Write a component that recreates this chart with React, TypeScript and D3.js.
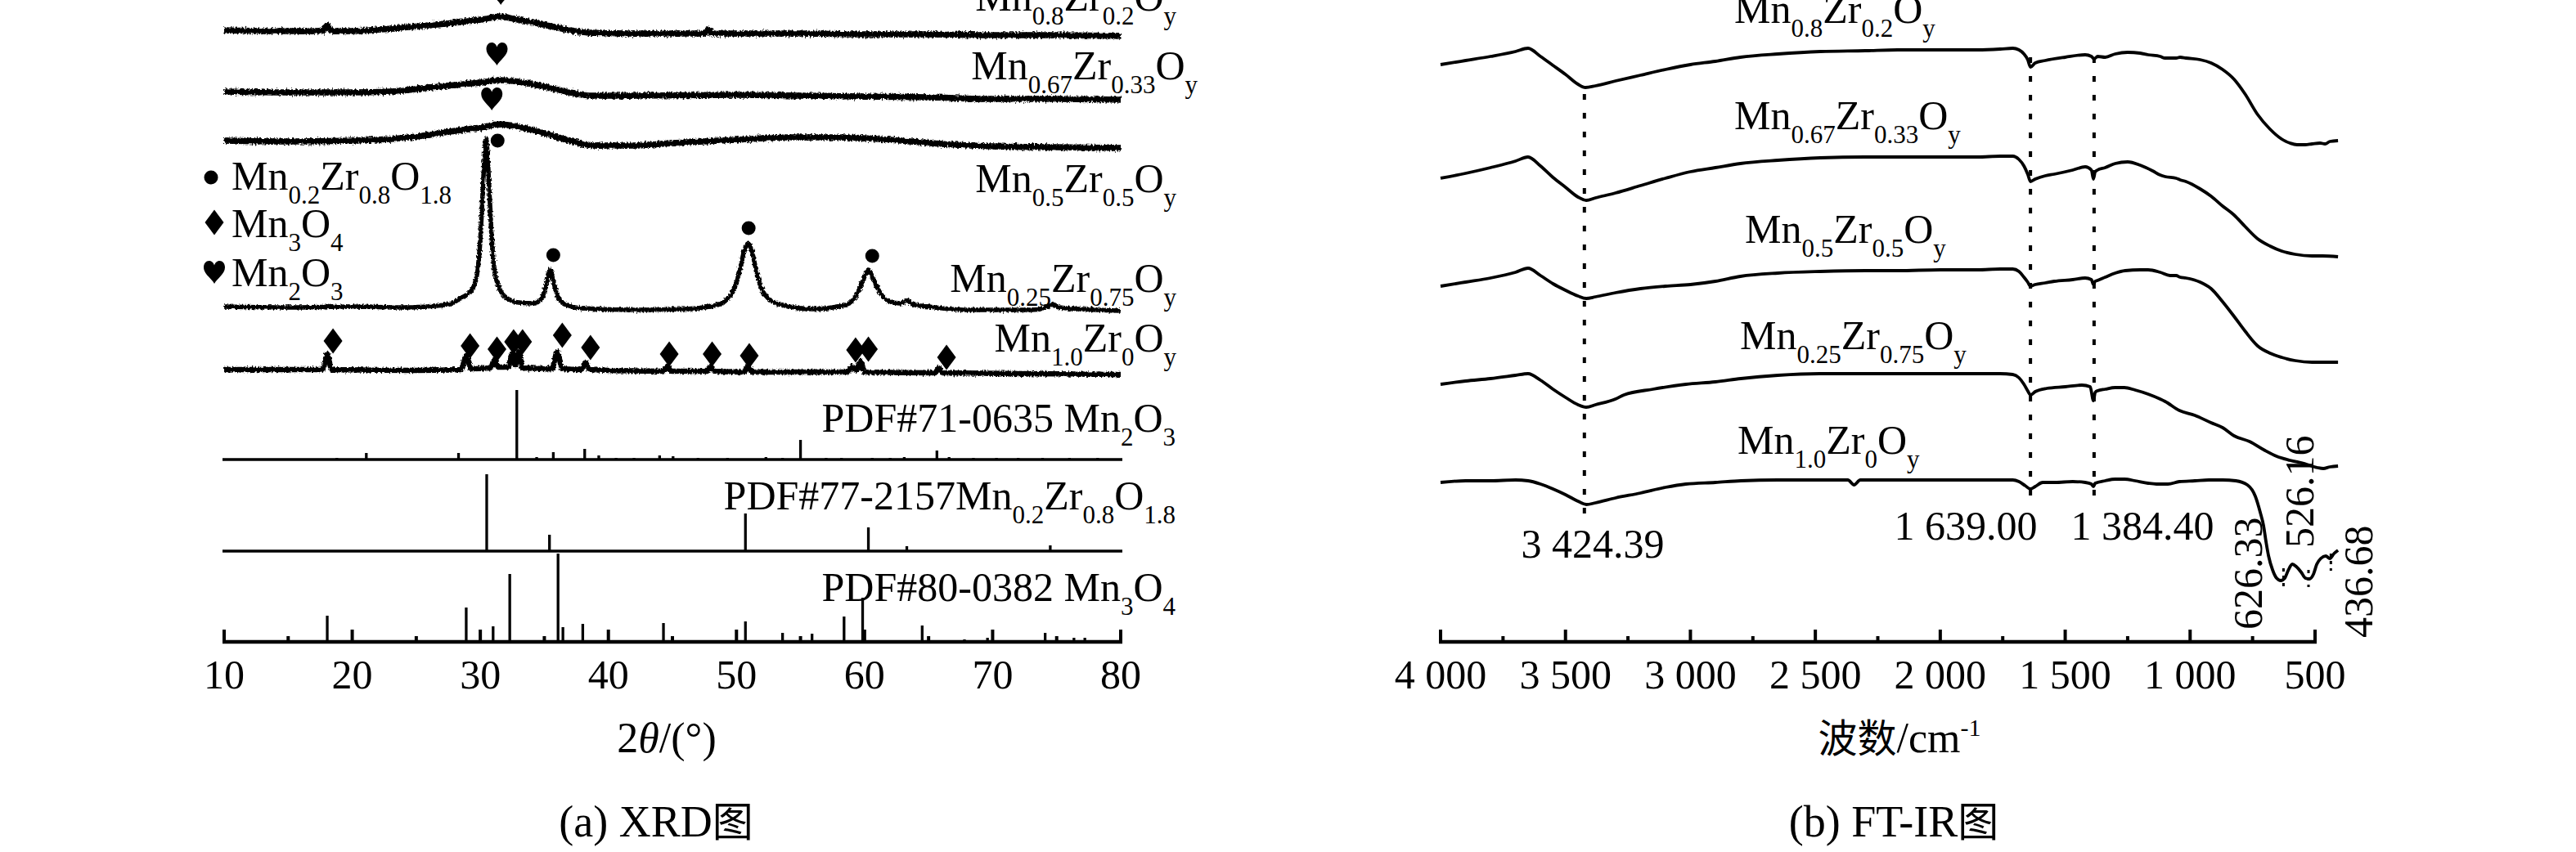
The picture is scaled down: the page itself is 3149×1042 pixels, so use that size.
import React from 'react';
import * as d3 from 'd3';

type P = [number, number];

// ================= (a) XRD data: 2θ (°), intensity (a.u., stacked) =================
const xrdTicks = [10, 20, 30, 40, 50, 60, 70, 80];
const xrdMinorTicks = [15, 25, 35, 45, 55, 65, 75];

const xrdSampleNames = [
  'Mn_{0.8}Zr_{0.2}O_{y}',
  'Mn_{0.67}Zr_{0.33}O_{y}',
  'Mn_{0.5}Zr_{0.5}O_{y}',
  'Mn_{0.25}Zr_{0.75}O_{y}',
  'Mn_{1.0}Zr_{0}O_{y}',
];

const xrdMn08: P[] = [
  [10, 748], [14, 747], [17.7, 747], [18.05, 754], [18.4, 747], [20, 747], [23, 750], [26, 754],
  [28.5, 758], [30.5, 762], [31.6, 765], [32.6, 762], [34, 758], [35.5, 753], [37, 748], [38.5, 745],
  [42, 744], [47.5, 744], [47.8, 749], [48.1, 744], [55, 744], [60, 743], [65, 743], [70, 742],
  [75, 742], [80, 741],
];
const xrdMn067: P[] = [
  [10, 673], [15, 672], [20, 672], [23, 673], [25.5, 677], [28, 681], [30, 684], [31.5, 687],
  [33, 685], [35, 679], [37, 672], [38.5, 668], [42, 668], [50, 669], [55, 668], [60, 667],
  [65, 666], [70, 664], [75, 664], [80, 663],
];
const xrdMn05: P[] = [
  [10, 613], [15, 612], [20, 613], [23, 615], [26, 620], [28, 625], [30, 629], [31.5, 633],
  [33, 630], [35, 622], [37, 613], [39, 607], [42, 607], [45, 610], [50, 614], [54, 617],
  [58, 617], [62, 614], [66, 609], [70, 606], [75, 605], [80, 604],
];
const xrdMn025: P[] = [
  [10, 410], [15, 409], [20, 410], [24, 409], [26.5, 411], [27.8, 414], [28.4, 420], [28.9, 424],
  [29.4, 432], [29.8, 455], [30.05, 505], [30.25, 570], [30.45, 615], [30.65, 570], [30.85, 505],
  [31.1, 455], [31.5, 432], [32.1, 420], [33, 415], [34.2, 414], [34.85, 422], [35.15, 438],
  [35.45, 455], [35.75, 438], [36.05, 422], [36.7, 412], [38, 408], [42, 406], [46, 407],
  [48.5, 412], [49.6, 425], [50.2, 450], [50.6, 478], [50.9, 487], [51.2, 478], [51.6, 450],
  [52.2, 425], [53.3, 413], [56, 407], [58.5, 412], [59.4, 425], [59.9, 443], [60.3, 455],
  [60.7, 443], [61.3, 425], [62.2, 415], [62.9, 414], [63.3, 418], [63.7, 413], [65, 410],
  [68, 406], [73, 406], [74.3, 410], [74.7, 413], [75.2, 409], [80, 405],
];
const xrdMn10: P[] = [
  [10, 333], [17.7, 333], [18.05, 352], [18.4, 333], [25, 332], [28.5, 333], [28.9, 350], [29.3, 334],
  [30.8, 335], [31.1, 345], [31.4, 336], [32.2, 336], [32.5, 353], [32.75, 338], [33.0, 355],
  [33.3, 335], [35.6, 334], [36.0, 355], [36.4, 334], [37.9, 333], [38.2, 342], [38.5, 333],
  [44.3, 331], [44.6, 337], [44.9, 331], [47.7, 331], [48.0, 337], [48.3, 331], [50.6, 330],
  [50.9, 338], [51.2, 330], [58.7, 330], [59.0, 337], [59.35, 332], [59.7, 343], [60.0, 330],
  [65.5, 329], [65.8, 335], [66.1, 329], [80, 327],
];
const xrdTraces = [xrdMn08, xrdMn067, xrdMn05, xrdMn025, xrdMn10];

// phase markers (2θ, a.u.)
const dotMarks: P[] = [[31.35, 613], [35.7, 473], [50.95, 506], [60.6, 472]];
const diamondMarks: P[] = [
  [18.5, 368], [29.2, 362], [31.3, 358], [32.6, 367], [33.3, 367], [36.4, 375], [38.6, 360],
  [44.75, 352], [48.1, 352], [51.0, 350], [59.3, 357], [60.3, 358], [66.4, 348],
];
const heartMarks: P[] = [[31.6, 793], [31.3, 719], [30.9, 664]];

// reference PDF cards: [2θ, relative intensity (a.u.)]
const pdfNames = [
  'PDF#71-0635 Mn_{2}O_{3}',
  'PDF#77-2157Mn_{0.2}Zr_{0.8}O_{1.8}',
  'PDF#80-0382 Mn_{3}O_{4}',
];
const pdfBaselines = [223, 111, 0];
const pdfMn2O3: P[] = [
  [18.8, 2], [21.1, 8], [28.3, 8], [32.85, 85], [34.4, 3], [35.7, 9], [38.15, 13], [39.25, 5],
  [40.6, 2], [42.0, 2], [44.0, 5], [45.05, 4], [47.0, 2], [49.3, 2], [52.3, 3], [53.6, 2],
  [55.0, 24], [57.0, 2], [58.2, 2], [60.6, 2], [62.0, 2], [63.1, 3], [65.65, 11], [66.6, 3],
  [68.5, 2], [70.3, 2], [72.0, 2], [73.9, 2], [76.0, 2], [78.2, 2],
];
const pdfMnZrO: P[] = [[30.5, 94], [35.4, 20], [50.7, 46], [60.3, 29], [63.3, 6], [74.5, 7]];
const pdfMn3O4: P[] = [
  [18.05, 32], [28.9, 42], [31.0, 19], [32.3, 83], [36.07, 108], [36.45, 18], [38.0, 22],
  [44.3, 23], [48.2, 2], [50.7, 25], [53.6, 11], [55.9, 10], [58.4, 31], [59.85, 54], [64.5, 20],
  [67.8, 3], [69.6, 5], [74.1, 11], [76.35, 5], [77.2, 5],
];
const pdfSticks = [pdfMn2O3, pdfMnZrO, pdfMn3O4];

// ================= (b) FT-IR data: wavenumber (cm-1), transmittance (a.u., stacked) =================
const irTicks = [4000, 3500, 3000, 2500, 2000, 1500, 1000, 500];
const irTickLabels = ['4 000', '3 500', '3 000', '2 500', '2 000', '1 500', '1 000', '500'];
const irMinorTicks = [3750, 3250, 2750, 2250, 1750, 1250, 750];
const irSampleNames = xrdSampleNames;

const irMn08: P[] = [
  [4000, 706], [3900, 711], [3800, 716], [3700, 722], [3650, 726], [3600, 716], [3550, 705],
  [3500, 694], [3450, 682], [3420, 678], [3380, 680], [3300, 686], [3200, 693], [3100, 700],
  [3000, 706], [2900, 710], [2800, 715], [2650, 719], [2480, 722], [2300, 723], [2170, 724],
  [2000, 724], [1850, 724], [1760, 725], [1710, 726], [1685, 724], [1665, 719], [1650, 712],
  [1639, 703], [1620, 708], [1580, 711], [1500, 715], [1420, 718], [1395, 716], [1384, 713],
  [1370, 716], [1340, 715], [1300, 719], [1250, 721], [1200, 720], [1168, 718], [1120, 716],
  [1100, 714], [1056, 714], [1040, 715], [1017, 714], [960, 712], [916, 708], [870, 700],
  [824, 688], [780, 670], [730, 645], [680, 627], [634, 615], [600, 610], [572, 608],
  [540, 608], [512, 609], [480, 610], [460, 609], [440, 612], [408, 613],
];
const irMn067: P[] = [
  [4000, 567], [3900, 573], [3800, 580], [3700, 588], [3650, 593], [3600, 582], [3550, 568],
  [3500, 556], [3450, 544], [3417, 540], [3380, 543], [3300, 549], [3200, 558], [3100, 567],
  [3000, 575], [2900, 580], [2800, 585], [2650, 589], [2480, 592], [2300, 593], [2170, 593],
  [2000, 593], [1850, 593], [1760, 594], [1710, 594], [1685, 590], [1665, 582], [1650, 572],
  [1639, 563], [1620, 566], [1580, 570], [1544, 572], [1470, 577], [1420, 581], [1395, 577],
  [1387, 566], [1380, 575], [1371, 577], [1340, 580], [1300, 585], [1250, 587], [1200, 583],
  [1150, 576], [1120, 571], [1100, 569], [1056, 567], [1040, 565], [1017, 563], [960, 554],
  [916, 545], [870, 533], [824, 522], [780, 508], [730, 493], [680, 484], [634, 478],
  [580, 474], [512, 472], [470, 472], [408, 471],
];
const irMn05: P[] = [
  [4000, 435], [3900, 440], [3800, 445], [3700, 452], [3650, 457], [3600, 448], [3550, 438],
  [3500, 430], [3450, 423], [3417, 420], [3380, 422], [3300, 427], [3200, 432], [3100, 435],
  [3000, 437], [2900, 441], [2800, 447], [2650, 451], [2480, 453], [2300, 454], [2170, 454],
  [2000, 455], [1850, 455], [1760, 456], [1710, 456], [1685, 453], [1665, 446], [1650, 440],
  [1639, 435], [1620, 437], [1580, 439], [1544, 441], [1470, 443], [1420, 445], [1395, 443],
  [1387, 437], [1380, 441], [1371, 442], [1340, 446], [1300, 451], [1260, 454], [1200, 455],
  [1168, 455], [1120, 452], [1080, 448], [1056, 448], [1040, 446], [1017, 445], [960, 440],
  [916, 432], [870, 416], [824, 398], [780, 380], [730, 362], [680, 353], [634, 348],
  [580, 344], [512, 342], [470, 342], [408, 342],
];
const irMn025: P[] = [
  [4000, 315], [3900, 319], [3800, 322], [3700, 326], [3650, 328], [3600, 320], [3550, 309],
  [3500, 299], [3450, 290], [3417, 287], [3380, 290], [3300, 297], [3266, 302], [3150, 309],
  [3018, 315], [2900, 318], [2798, 322], [2650, 326], [2484, 328], [2300, 328], [2170, 328],
  [2000, 328], [1850, 328], [1760, 328], [1710, 327], [1685, 323], [1665, 315], [1650, 307],
  [1639, 302], [1620, 306], [1574, 310], [1500, 312], [1433, 314], [1400, 312], [1387, 295],
  [1380, 305], [1371, 307], [1340, 309], [1300, 311], [1263, 311], [1220, 308], [1168, 303],
  [1120, 297], [1100, 294], [1043, 283], [981, 277], [916, 268], [870, 262], [824, 252],
  [762, 245], [700, 234], [654, 227], [600, 222], [542, 218], [490, 213], [467, 212],
  [440, 214], [408, 215],
];
const irMn10: P[] = [
  [4000, 195], [3900, 197], [3800, 197], [3700, 198], [3650, 197], [3600, 193], [3550, 187],
  [3500, 180], [3450, 172], [3417, 168], [3380, 170], [3300, 176], [3200, 182], [3100, 189],
  [3018, 193], [2900, 195], [2798, 197], [2650, 198], [2484, 198], [2370, 198], [2345, 192],
  [2320, 198], [2170, 198], [2000, 198], [1850, 198], [1710, 198], [1685, 196], [1660, 191],
  [1639, 187], [1620, 190], [1590, 195], [1540, 195], [1470, 196], [1420, 195], [1395, 193],
  [1387, 190], [1380, 194], [1340, 197], [1300, 199], [1263, 199], [1220, 197], [1168, 194],
  [1135, 193], [1089, 193], [1043, 196], [981, 197], [925, 198], [870, 198], [817, 197],
  [771, 192], [739, 178], [719, 158], [706, 142], [696, 122], [686, 105], [670, 88],
  [654, 78], [637, 75], [621, 78], [608, 87], [591, 95], [575, 92], [555, 85], [539, 78],
  [523, 77], [506, 83], [493, 95], [477, 102], [457, 105], [441, 102], [424, 108], [408, 112],
];
const irTraces = [irMn08, irMn067, irMn05, irMn025, irMn10];

const irBandPositions = [3424.39, 1639.0, 1384.4];
const irBandLabels = ['3 424.39', '1 639.00', '1 384.40'];
const irLowBands = [626.33, 526.16, 436.68];
const irLowBandLabels = ['626.33', '526.16', '436.68'];

// ================= drawing helpers =================
const FONT = "'Liberation Serif','Times New Roman',serif";
const CJK = "'Noto Sans CJK SC','Noto Sans CJK JP',sans-serif";

function Formula(props: {
  x: number; y: number; text: string; anchor?: 'start' | 'end' | 'middle';
  size?: number; sub?: number; shift?: number;
}) {
  const { x, y, text, anchor = 'start', size = 50, sub = 31, shift = 17 } = props;
  const pieces = text.split(/(_\{[^}]*\})/).filter((s) => s.length > 0);
  let cur = 0;
  return (
    <text x={x} y={y} textAnchor={anchor} fontSize={size} fontFamily={FONT} fill="#000">
      {pieces.map((p, i) => {
        const isSub = p.startsWith('_{');
        const content = isSub ? p.slice(2, -1) : p;
        const target = isSub ? shift : 0;
        const dy = target - cur;
        cur = target;
        return (
          <tspan key={i} dy={dy} fontSize={isSub ? sub : size}>
            {content}
          </tspan>
        );
      })}
    </text>
  );
}

const HEART = 'M0,14 C-3,8 -13,2 -13,-6 C-13,-11 -10,-14 -6.5,-14 C-3,-14 -0.8,-11.5 0,-8.5 C0.8,-11.5 3,-14 6.5,-14 C10,-14 13,-11 13,-6 C13,2 3,8 0,14 Z';
const DIAMOND = 'M0,-15.5 L11.5,0 L0,15.5 L-11.5,0 Z';

export default function App() {
  const AXIS_Y = 785;
  const x = d3.scaleLinear().domain([10, 80]).range([274, 1370]);
  const xi = d3.scaleLinear().domain([4000, 500]).range([1761, 2830]);
  const y = d3.scaleLinear().domain([0, 785]).range([AXIS_Y, 0]);

  const xrdLine = d3.line<P>().x((d) => x(d[0])).y((d) => y(d[1])).curve(d3.curveMonotoneX);
  const irLine = d3.line<P>().x((d) => xi(d[0])).y((d) => y(d[1])).curve(d3.curveMonotoneX);

  const xrdWidths = [7.5, 7.5, 7.5, 5.5, 6.5];
  const xrdFilters = ['url(#grainA)', 'url(#grainA)', 'url(#grainA)', 'url(#grainB)', 'url(#grainB)'];
  const xrdLabelPos: [number, number][] = [[1438, 13], [1464, 97], [1438, 235], [1438, 357], [1438, 430]];
  const pdfLabelY = [528, 623, 735];
  const irLabelPos: [number, number][] = [[2120, 28], [2120, 158], [2133, 297], [2127, 427], [2124, 555]];
  const bandDash: [number, number][] = [[115, 630], [70, 610], [70, 612]];
  const bandLabelPos: [number, number][] = [[1947, 682], [2403, 660], [2619, 660]];
  const lowDash: [number, number][] = [[695, 718], [697, 718], [677, 698]];
  const lowLabel: [number, number][] = [[-26, 770], [6, 670], [51, 780]];

  return (
    <svg width={3149} height={1042} viewBox="0 0 3149 1042"
      style={{ position: 'absolute', left: 0, top: 0, background: '#fff' }}>
      <defs>
        <filter id="grainA" filterUnits="userSpaceOnUse" x={0} y={-60} width={1500} height={560}>
          <feTurbulence type="fractalNoise" baseFrequency="0.5 0.35" numOctaves={2} seed={3} result="n" />
          <feDisplacementMap in="SourceGraphic" in2="n" scale={6} xChannelSelector="R" yChannelSelector="G" />
        </filter>
        <filter id="grainB" filterUnits="userSpaceOnUse" x={0} y={100} width={1500} height={420}>
          <feTurbulence type="fractalNoise" baseFrequency="0.5 0.35" numOctaves={2} seed={7} result="n" />
          <feDisplacementMap in="SourceGraphic" in2="n" scale={5} xChannelSelector="R" yChannelSelector="G" />
        </filter>
      </defs>
      <rect x={0} y={0} width={3149} height={1042} fill="#fff" />

      {/* ===== XRD panel ===== */}
      {xrdTraces.map((t, i) => (
        <path key={'xt' + i} d={xrdLine(t) || ''} fill="none" stroke="#000"
          strokeWidth={xrdWidths[i]} strokeLinejoin="round" filter={xrdFilters[i]} />
      ))}
      {xrdSampleNames.map((n, i) => (
        <Formula key={'xl' + i} x={xrdLabelPos[i][0]} y={xrdLabelPos[i][1]} text={n} anchor="end" />
      ))}
      {dotMarks.map((d, i) => (
        <circle key={'dm' + i} cx={x(d[0])} cy={y(d[1])} r={8.5} fill="#000" />
      ))}
      {diamondMarks.map((d, i) => (
        <path key={'dd' + i} d={DIAMOND} transform={`translate(${x(d[0])},${y(d[1])})`} fill="#000" />
      ))}
      {heartMarks.map((d, i) => (
        <path key={'hm' + i} d={HEART} transform={`translate(${x(d[0])},${y(d[1])})`} fill="#000" />
      ))}

      {/* legend */}
      <circle cx={258} cy={217} r={8.5} fill="#000" />
      <Formula x={283} y={232} text="Mn_{0.2}Zr_{0.8}O_{1.8}" />
      <path d={DIAMOND} transform="translate(262,272)" fill="#000" />
      <Formula x={283} y={290} text="Mn_{3}O_{4}" />
      <path d={HEART} transform="translate(262,333)" fill="#000" />
      <Formula x={283} y={350} text="Mn_{2}O_{3}" />

      {/* PDF reference cards */}
      {pdfSticks.map((s, k) => (
        <g key={'pdf' + k}>
          {k < 2 && (
            <line x1={272} x2={1372} y1={y(pdfBaselines[k])} y2={y(pdfBaselines[k])}
              stroke="#000" strokeWidth={3.5} />
          )}
          {s.map((d, i) => (
            <line key={i} x1={x(d[0])} x2={x(d[0])} y1={y(pdfBaselines[k])}
              y2={y(pdfBaselines[k] + d[1])} stroke="#000" strokeWidth={3.3} />
          ))}
          <Formula x={1437} y={pdfLabelY[k]} text={pdfNames[k]} anchor="end" />
        </g>
      ))}

      {/* XRD axis */}
      <line x1={272} x2={1372} y1={AXIS_Y} y2={AXIS_Y} stroke="#000" strokeWidth={4.5} />
      {xrdTicks.map((t) => (
        <g key={'xtk' + t}>
          <line x1={x(t)} x2={x(t)} y1={AXIS_Y} y2={AXIS_Y - 15} stroke="#000" strokeWidth={4} />
          <text x={x(t)} y={842} textAnchor="middle" fontSize={50} fontFamily={FONT}>{t}</text>
        </g>
      ))}
      {xrdMinorTicks.map((t) => (
        <line key={'xmt' + t} x1={x(t)} x2={x(t)} y1={AXIS_Y} y2={AXIS_Y - 7} stroke="#000" strokeWidth={4} />
      ))}
      <text x={815} y={920} textAnchor="middle" fontSize={52} fontFamily={FONT}>
        2<tspan fontStyle="italic">θ</tspan>/(°)
      </text>
      <text x={802} y={1023} textAnchor="middle" fontSize={54} fontFamily={FONT}>
        (a) XRD<tspan fontFamily={CJK} fontSize={50}>图</tspan>
      </text>

      {/* ===== FT-IR panel ===== */}
      {irBandPositions.map((b, i) => (
        <line key={'bd' + i} x1={xi(b)} x2={xi(b)} y1={bandDash[i][0]} y2={bandDash[i][1]}
          stroke="#000" strokeWidth={4} strokeDasharray="7 16" />
      ))}
      {irTraces.map((t, i) => (
        <path key={'it' + i} d={irLine(t) || ''} fill="none" stroke="#000" strokeWidth={3.8}
          strokeLinejoin="round" />
      ))}
      {irSampleNames.map((n, i) => (
        <Formula key={'il' + i} x={irLabelPos[i][0]} y={irLabelPos[i][1]} text={n} />
      ))}
      {irBandLabels.map((l, i) => (
        <text key={'bl' + i} x={bandLabelPos[i][0]} y={bandLabelPos[i][1]} textAnchor="middle"
          fontSize={50} fontFamily={FONT}>{l}</text>
      ))}
      {irLowBands.map((b, i) => (
        <g key={'lb' + i}>
          <line x1={xi(b)} x2={xi(b)} y1={lowDash[i][0]} y2={lowDash[i][1]} stroke="#000"
            strokeWidth={3} strokeDasharray="4 5" />
          <text transform={`translate(${xi(b) + lowLabel[i][0]},${lowLabel[i][1]}) rotate(-90)`}
            fontSize={50} fontFamily={FONT}>{irLowBandLabels[i]}</text>
        </g>
      ))}

      {/* FT-IR axis */}
      <line x1={1759} x2={2832} y1={AXIS_Y} y2={AXIS_Y} stroke="#000" strokeWidth={4.5} />
      {irTicks.map((t, i) => (
        <g key={'itk' + t}>
          <line x1={xi(t)} x2={xi(t)} y1={AXIS_Y} y2={AXIS_Y - 15} stroke="#000" strokeWidth={4} />
          <text x={xi(t)} y={842} textAnchor="middle" fontSize={50} fontFamily={FONT}>{irTickLabels[i]}</text>
        </g>
      ))}
      {irMinorTicks.map((t) => (
        <line key={'imt' + t} x1={xi(t)} x2={xi(t)} y1={AXIS_Y} y2={AXIS_Y - 7} stroke="#000" strokeWidth={4} />
      ))}
      <text x={2322} y={920} textAnchor="middle" fontSize={52} fontFamily={FONT}>
        <tspan fontFamily={CJK} fontSize={48}>波数</tspan>/cm<tspan dy={-20} fontSize={30}>-1</tspan>
      </text>
      <text x={2315} y={1023} textAnchor="middle" fontSize={54} fontFamily={FONT}>
        (b) FT-IR<tspan fontFamily={CJK} fontSize={50}>图</tspan>
      </text>
    </svg>
  );
}
